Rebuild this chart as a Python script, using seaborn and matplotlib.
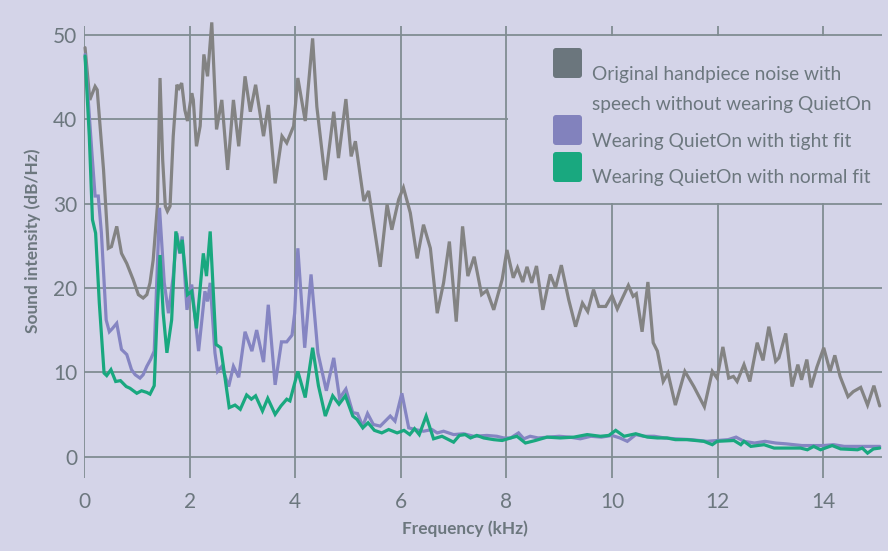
import numpy as np
import pandas as pd
import seaborn as sns
import matplotlib
matplotlib.use("Agg")
import matplotlib.pyplot as plt
from matplotlib.patches import Rectangle, FancyBboxPatch
from matplotlib.transforms import IdentityTransform

# ---------------- data ----------------
orig_freq = [0.02, 0.11, 0.21, 0.25, 0.37, 0.46, 0.52, 0.62, 0.71, 0.81, 0.93, 1.03, 1.12, 1.19, 1.25,
             1.31, 1.39, 1.44, 1.49, 1.54, 1.58, 1.63, 1.69, 1.76, 1.80, 1.85, 1.91, 1.96, 2.04, 2.07,
             2.13, 2.20, 2.27, 2.34, 2.42, 2.51, 2.61, 2.72, 2.83, 2.93, 3.05, 3.15, 3.25, 3.40, 3.49,
             3.62, 3.75, 3.84, 3.97, 4.05, 4.19, 4.33, 4.41, 4.57, 4.73, 4.82, 4.96, 5.06, 5.14, 5.30,
             5.39, 5.61, 5.74, 5.83, 5.96, 6.05, 6.18, 6.31, 6.43, 6.56, 6.69, 6.81, 6.92, 7.05, 7.17,
             7.27, 7.39, 7.53, 7.63, 7.76, 7.92, 8.01, 8.13, 8.21, 8.31, 8.39, 8.48, 8.57, 8.69, 8.83,
             8.93, 9.04, 9.18, 9.31, 9.44, 9.54, 9.65, 9.75, 9.88, 10.00, 10.10, 10.31, 10.40, 10.46,
             10.57, 10.68, 10.78, 10.86, 10.97, 11.06, 11.20, 11.38, 11.55, 11.75, 11.90, 11.99, 12.10,
             12.21, 12.30, 12.37, 12.50, 12.61, 12.75, 12.86, 12.97, 13.10, 13.16, 13.29, 13.41, 13.52,
             13.59, 13.69, 13.77, 13.88, 14.01, 14.13, 14.22, 14.32, 14.47, 14.57, 14.71, 14.84, 14.96,
             15.07]
orig_db = [48.5, 42.3, 43.9, 43.5, 34.0, 24.7, 24.9, 27.3, 24.1, 22.9, 21.0, 19.2, 18.8, 19.2, 20.6,
           23.3, 29.7, 44.9, 35.2, 29.7, 29.1, 29.7, 38.0, 44.1, 43.7, 44.3, 41.1, 39.8, 43.1, 42.3,
           36.8, 39.2, 47.7, 45.1, 51.5, 38.8, 42.3, 34.0, 42.3, 36.8, 45.1, 40.9, 44.1, 38.0, 41.7,
           32.4, 38.0, 37.2, 39.2, 44.9, 39.8, 49.6, 41.5, 32.8, 40.9, 35.4, 42.4, 35.6, 37.4, 30.3,
           31.5, 22.5, 29.9, 26.9, 30.5, 31.9, 28.9, 23.5, 27.5, 24.7, 17.0, 20.6, 25.5, 16.0, 27.3,
           21.4, 23.7, 19.2, 19.7, 17.4, 21.0, 24.5, 21.2, 22.4, 20.7, 22.5, 20.6, 22.6, 17.4, 21.6,
           20.0, 22.7, 18.6, 15.4, 18.2, 17.2, 19.8, 17.8, 17.8, 19.1, 17.5, 20.3, 19.0, 19.3,
           14.8, 20.7, 13.5, 12.5, 8.9, 9.9, 6.1, 10.1, 8.3, 5.9, 10.1, 9.3, 13.0,
           9.3, 9.5, 8.9, 10.9, 8.9, 13.5, 11.4, 15.4, 11.3, 11.7, 14.6, 8.3, 10.9,
           9.1, 11.5, 8.2, 10.6, 12.9, 10.1, 12.0, 9.5, 7.1, 7.7, 8.2, 6.1, 8.4,
           6.0]

tight_freq = [0.02, 0.15, 0.21, 0.27, 0.33, 0.42, 0.48, 0.54, 0.62, 0.71, 0.81, 0.90, 0.97, 1.06, 1.12,
              1.19, 1.26, 1.33, 1.43, 1.52, 1.60, 1.69, 1.76, 1.81, 1.86, 1.95, 2.04, 2.17, 2.29, 2.34,
              2.39, 2.48, 2.53, 2.61, 2.74, 2.83, 2.93, 3.05, 3.18, 3.27, 3.40, 3.49, 3.62, 3.74, 3.84,
              3.94, 3.99, 4.05, 4.18, 4.30, 4.43, 4.59, 4.73, 4.84, 4.96, 5.09, 5.18, 5.28, 5.37, 5.48,
              5.61, 5.80, 5.89, 6.02, 6.15, 6.27, 6.43, 6.59, 6.69, 6.81, 7.00, 7.19, 7.38, 7.63, 7.82,
              7.95, 8.08, 8.23, 8.33, 8.45, 8.60, 8.80, 9.00, 9.20, 9.40, 9.60, 9.80, 10.00, 10.15,
              10.29, 10.45, 10.60, 10.80, 11.00, 11.20, 11.50, 11.80, 12.00, 12.20, 12.35, 12.50, 12.70,
              12.90, 13.10, 13.30, 13.60, 13.80, 14.00, 14.20, 14.40, 14.60, 14.80, 15.07]
tight_db = [47.7, 36.0, 30.9, 30.9, 26.5, 16.2, 14.8, 15.2, 15.8, 12.7, 12.1, 10.3, 9.7, 9.3, 9.7,
            10.7, 11.5, 12.5, 29.5, 20.6, 17.0, 21.4, 26.5, 24.1, 26.1, 17.4, 20.4, 12.5, 19.6, 18.4,
            20.6, 12.3, 10.1, 10.7, 8.3, 10.7, 9.4, 14.8, 12.5, 15.0, 11.2, 18.0, 8.5, 13.6, 13.6,
            14.4, 17.0, 24.7, 12.9, 21.6, 12.3, 7.8, 11.7, 6.9, 8.0, 5.2, 5.1, 3.6, 5.1, 3.8,
            3.6, 4.8, 4.2, 7.5, 3.4, 3.2, 3.0, 3.2, 2.8, 3.0, 2.6, 2.7, 2.4, 2.5, 2.4,
            2.2, 2.2, 2.8, 2.1, 2.4, 2.2, 2.3, 2.4, 2.3, 2.1, 2.4, 2.3, 2.5, 2.2,
            1.8, 2.6, 2.4, 2.4, 2.2, 2.1, 2.0, 1.8, 1.9, 2.0, 2.3, 1.8, 1.6,
            1.8, 1.6, 1.5, 1.3, 1.3, 1.3, 1.4, 1.2, 1.2, 1.2, 1.2]

normal_freq = [0.02, 0.10, 0.16, 0.22, 0.29, 0.38, 0.43, 0.51, 0.60, 0.69, 0.80, 0.87, 1.00, 1.09, 1.19,
               1.25, 1.33, 1.38, 1.44, 1.50, 1.57, 1.66, 1.74, 1.82, 1.86, 1.96, 2.04, 2.13, 2.26, 2.32,
               2.39, 2.50, 2.59, 2.75, 2.86, 2.96, 3.08, 3.17, 3.25, 3.38, 3.48, 3.62, 3.73, 3.84, 3.90,
               4.05, 4.19, 4.33, 4.44, 4.57, 4.71, 4.83, 4.95, 5.09, 5.17, 5.28, 5.38, 5.50, 5.64, 5.77,
               5.93, 6.06, 6.17, 6.26, 6.35, 6.48, 6.62, 6.78, 7.00, 7.11, 7.22, 7.32, 7.44, 7.57, 7.76,
               7.92, 8.08, 8.20, 8.36, 8.55, 8.77, 9.02, 9.28, 9.53, 9.78, 9.94, 10.07, 10.23, 10.45,
               10.67, 10.86, 11.04, 11.20, 11.42, 11.74, 11.90, 11.99, 12.31, 12.44, 12.50, 12.63, 12.88,
               13.07, 13.57, 13.70, 13.82, 13.95, 14.17, 14.33, 14.65, 14.74, 14.84, 14.95, 15.07]
normal_db = [47.5, 38.0, 28.1, 26.5, 18.2, 9.9, 9.6, 10.3, 8.9, 9.0, 8.3, 8.1, 7.5, 7.8, 7.6,
             7.4, 8.4, 16.2, 23.9, 17.0, 12.3, 16.2, 26.7, 24.1, 25.7, 19.2, 19.6, 15.2, 24.1, 21.4,
             26.7, 13.3, 12.9, 5.8, 6.1, 5.6, 7.3, 6.8, 7.2, 5.4, 6.9, 5.0, 6.0, 6.8, 6.6,
             10.1, 7.0, 12.9, 8.4, 4.8, 7.2, 6.2, 7.2, 4.8, 4.4, 3.4, 4.0, 3.1, 2.8, 3.2,
             2.8, 3.1, 2.6, 3.3, 2.6, 4.8, 2.1, 2.4, 1.7, 2.5, 2.6, 2.2, 2.5, 2.2, 2.0,
             1.9, 2.2, 2.4, 1.6, 1.9, 2.3, 2.2, 2.3, 2.6, 2.4, 2.5, 3.1, 2.4, 2.7,
             2.3, 2.2, 2.2, 2.0, 2.0, 1.8, 1.4, 1.8, 1.9, 1.4, 1.8, 1.2, 1.4,
             1.0, 1.0, 0.8, 1.2, 0.8, 1.3, 0.9, 0.8, 1.0, 0.4, 0.9, 1.0]

series_names = ["Original", "Tight fit", "Normal fit"]
legend_labels = [["Original handpiece noise with", "speech without wearing QuietOn"],
                 ["Wearing QuietOn with tight fit"],
                 ["Wearing QuietOn with normal fit"]]
x_ticks = [0, 2, 4, 6, 8, 10, 12, 14]
y_ticks = [0, 10, 20, 30, 40, 50]

# ---------------- styling ----------------
BG = "#d4d4e8"
GRID = "#808c92"
TXT = "#6c777e"
line_colors = ["#838383", "#8585c2", "#19a87f"]
patch_colors = ["#6b767d", "#8282bd", "#19a87f"]

sns.set_theme(style="white")
plt.rcParams["font.family"] = ["Lato", "DejaVu Sans"]

df = pd.concat([
    pd.DataFrame({"freq": orig_freq, "db": orig_db, "series": series_names[0]}),
    pd.DataFrame({"freq": tight_freq, "db": tight_db, "series": series_names[1]}),
    pd.DataFrame({"freq": normal_freq, "db": normal_db, "series": series_names[2]}),
], ignore_index=True)

W, H = 888, 551
fig = plt.figure(figsize=(W / 100, H / 100), dpi=100, facecolor=BG)
L, R, T, B = 84, 882, 26, 478
ax = fig.add_axes([L / W, 1 - B / H, (R - L) / W, (B - T) / H])
ax.set_facecolor(BG)

sns.lineplot(data=df, x="freq", y="db", hue="series", hue_order=series_names,
             palette=dict(zip(series_names, line_colors)), sort=False, estimator=None,
             linewidth=2.3, legend=False, ax=ax)
for ln in ax.lines:
    ln.set_clip_on(False)
    ln.set_solid_joinstyle("miter")

ax.set_xlim(0, (R - L) / 52.8)
ax.set_ylim(-2.55, 51.07)
ax.set_xticks(x_ticks)
ax.set_yticks(y_ticks)
ax.set_xticklabels([str(v) for v in x_ticks])
ax.set_yticklabels([str(v) for v in y_ticks])
ax.grid(True, color=GRID, linewidth=1.3)
ax.set_axisbelow(True)
for s in ax.spines.values():
    s.set_visible(False)
ax.tick_params(axis="both", length=0, labelsize=15, labelcolor=TXT)
ax.tick_params(axis="y", pad=5)
ax.tick_params(axis="x", pad=10)

ax.set_xlabel("Frequency (kHz)", fontsize=12.4, fontweight="bold", color=TXT)
ax.set_ylabel("Sound intensity (dB/Hz)", fontsize=12.4, fontweight="bold", color=TXT)
ax.xaxis.set_label_coords((465 - L) / (R - L), (B - 529) / (B - T))
ax.xaxis.label.set_va("center")
ax.yaxis.set_label_coords((33 - L) / (R - L), (B - 241) / (B - T))
ax.yaxis.label.set_va("center")

# legend area (covers grid behind legend)
ax.add_patch(Rectangle((8.03, 30.12), 7.3, 19.75, facecolor=BG, edgecolor="none", zorder=1.5))

# legend, in pixel coordinates
patch_tops = [48, 115, 152]
baselines = [[80, 110], [146.7], [182.7]]
for col, top, lines, bls in zip(patch_colors, patch_tops, legend_labels, baselines):
    p = FancyBboxPatch((553, H - top - 30), 29, 30, boxstyle="round,pad=0,rounding_size=3",
                       facecolor=col, edgecolor="none", transform=IdentityTransform())
    fig.patches.append(p)
    for txt, bl in zip(lines, bls):
        fig.text(592 / W, 1 - bl / H, txt, fontsize=13.8, color=TXT, ha="left", va="baseline")

fig.savefig("out.png", dpi=100, facecolor=BG)
